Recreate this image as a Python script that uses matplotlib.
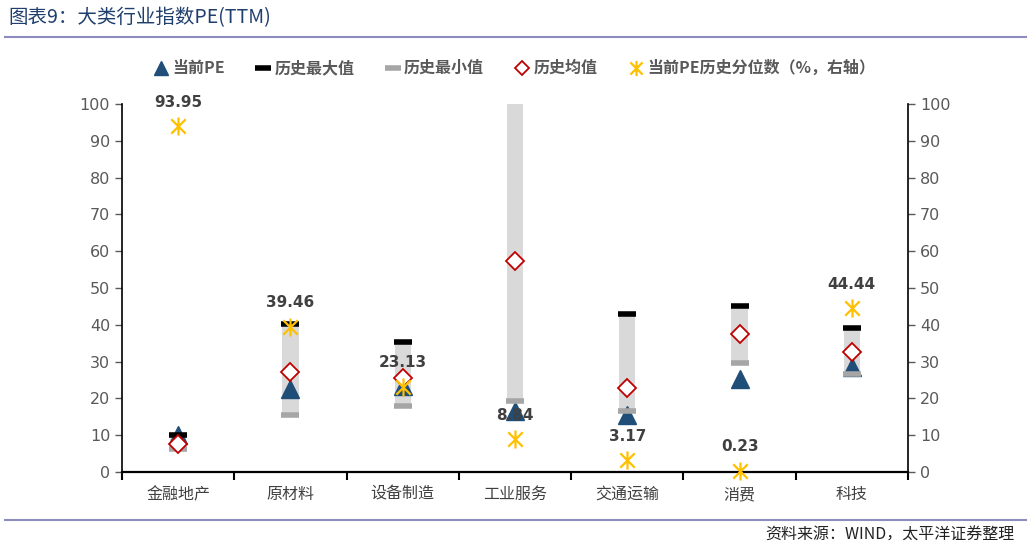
import matplotlib
matplotlib.use("Agg")
import matplotlib.pyplot as plt
from matplotlib.lines import Line2D
from matplotlib.path import Path
import numpy as np

plt.rcParams['font.family'] = ['Noto Sans CJK SC', 'DejaVu Sans']

categories = ["金融地产", "原材料", "设备制造", "工业服务", "交通运输", "消费", "科技"]
current_pe = [10.0, 22.5, 23.4, 16.6, 15.4, 25.4, 28.4]
hist_max = [10.1, 40.1, 35.2, 130.0, 42.8, 45.1, 39.2]
hist_min = [6.3, 15.6, 17.9, 19.3, 16.6, 29.5, 26.5]
hist_mean = [7.6, 27.2, 25.5, 57.3, 22.7, 37.6, 32.6]
percentile = [93.95, 39.46, 23.13, 8.84, 3.17, 0.23, 44.44]
pct_labels = ["93.95", "39.46", "23.13", "8.84", "3.17", "0.23", "44.44"]
yticks = [0, 10, 20, 30, 40, 50, 60, 70, 80, 90, 100]

W, H = 1031, 549
fig = plt.figure(figsize=(W / 100, H / 100), dpi=100)

ax = fig.add_axes([122 / W, 1 - 472 / H, (908 - 122) / W, (472 - 104) / H])
ax2 = ax.twinx()

x = np.arange(len(categories))
heights = [mx - mn for mx, mn in zip(hist_max, hist_min)]
ax.bar(x, heights, bottom=hist_min, width=0.145, color="#d9d9d9", zorder=1)

ax.plot(x, hist_max, linestyle="none", marker="_", markersize=13, markeredgewidth=4,
        color="black", zorder=3)
ax.plot(x, hist_min, linestyle="none", marker="_", markersize=13, markeredgewidth=4,
        color="#a6a6a6", zorder=3)
ax.plot(x, current_pe, linestyle="none", marker="^", markersize=13,
        color="#1f4e79", zorder=2)
ax.plot(x, hist_mean, linestyle="none", marker="D", markersize=9.5, markerfacecolor="white",
        markeredgecolor="#c00000", markeredgewidth=1.3, zorder=4)

star = Path([(0, -1), (0, 1), (-0.8, -0.8), (0.8, 0.8), (-0.8, 0.8), (0.8, -0.8)],
            [Path.MOVETO, Path.LINETO, Path.MOVETO, Path.LINETO, Path.MOVETO, Path.LINETO])
ax2.plot(x, percentile, linestyle="none", marker=star, markersize=13, markeredgewidth=1.6,
         color="#ffc000", zorder=5, clip_on=False)
for xi, v, lab in zip(x, percentile, pct_labels):
    ax2.annotate(lab, (xi, v), xytext=(0, 12), textcoords="offset points", ha="center",
                 va="bottom", fontsize=11, fontweight="bold", color="#404040",
                 family=["DejaVu Sans"])

for a in (ax, ax2):
    a.set_ylim(0, 100)
    a.set_yticks(yticks)
    a.spines["top"].set_visible(False)
    a.tick_params(axis="y", labelsize=11.5, colors="#595959", length=5, width=1, direction="out")
ax.set_xlim(-0.5, len(categories) - 0.5)
ax.spines["left"].set_linewidth(1.2)
ax2.spines["right"].set_linewidth(1.2)
ax.spines["bottom"].set_linewidth(1.6)
ax2.spines["left"].set_visible(False)
ax.spines["right"].set_visible(False)
ax2.spines["bottom"].set_visible(False)
for lab in ax.get_yticklabels() + ax2.get_yticklabels():
    lab.set_color("#595959")
    lab.set_family("DejaVu Sans")

ax.set_xticks(x)
ax.set_xticklabels(categories, fontsize=11.5, color="#404040")
ax.tick_params(axis="x", length=0, pad=10)
ax.set_xticks(np.arange(-0.5, len(categories) + 0.5, 1), minor=True)
ax.tick_params(axis="x", which="minor", length=6, width=1.5, direction="out")

handles = [
    Line2D([], [], linestyle="none", marker="^", markersize=10, color="#1f4e79"),
    Line2D([], [], linestyle="none", marker="_", markersize=11, markeredgewidth=4, color="black"),
    Line2D([], [], linestyle="none", marker="_", markersize=11, markeredgewidth=4, color="#a6a6a6"),
    Line2D([], [], linestyle="none", marker="D", markersize=7, markerfacecolor="white",
           markeredgecolor="#c00000", markeredgewidth=1.3),
    Line2D([], [], linestyle="none", marker=star, markersize=11, markeredgewidth=1.6, color="#ffc000"),
]
labels = ["当前PE", "历史最大值", "历史最小值", "历史均值", "当前PE历史分位数（%，右轴）"]
fig.legend(handles, labels, loc="center", bbox_to_anchor=(515 / W, 1 - 68 / H), ncol=5,
           frameon=False, handlelength=0.8, handletextpad=0.3, columnspacing=2.0,
           prop={"weight": "bold", "size": 11.5})
for t in fig.legends[0].get_texts():
    t.set_color("#595959")

fig.text(8 / W, 1 - 18 / H, "图表9：大类行业指数PE(TTM)", fontsize=14, color="#1f3f6e",
         va="center", ha="left")
fig.add_artist(Line2D([5 / W, 1026 / W], [1 - 37 / H, 1 - 37 / H], color="#8c8cbf", linewidth=1.5))
fig.add_artist(Line2D([5 / W, 1026 / W], [1 - 520 / H, 1 - 520 / H], color="#8c8cbf", linewidth=1.5))
fig.text(1015 / W, 1 - 535 / H, "资料来源：WIND，太平洋证券整理", fontsize=11.5, color="#222222",
         va="center", ha="right", style="italic")

fig.savefig("out.png", dpi=100)
